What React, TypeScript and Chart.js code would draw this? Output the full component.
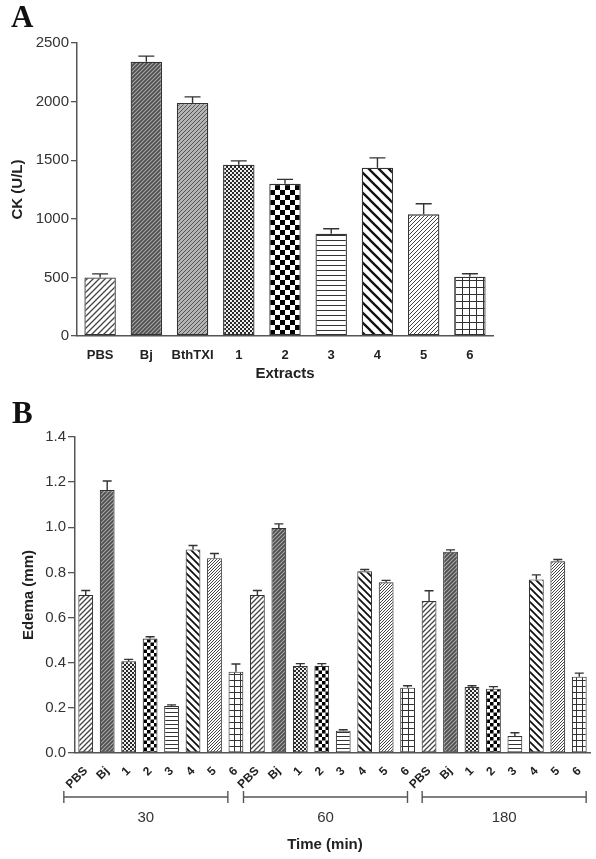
import React, { useEffect, useRef } from "react";
import { Chart, registerables } from "chart.js";
Chart.register(...registerables);

// ---------- Data: panel A (CK) ----------
const ckCategories = ["PBS", "Bj", "BthTXI", "1", "2", "3", "4", "5", "6"];
const ckValues = [500, 2340, 1988, 1462, 1298, 873, 1435, 1038, 505];
const ckSem = [30, 48, 52, 32, 38, 42, 85, 90, 26];
const ckTicks = [0, 500, 1000, 1500, 2000, 2500];

// ---------- Data: panel B (Edema) ----------
const edemaTreatments = ["PBS", "Bj", "1", "2", "3", "4", "5", "6"];
const timeGroups = ["30", "60", "180"];
const edema30 = [0.70, 1.165, 0.407, 0.507, 0.208, 0.902, 0.863, 0.36];
const edema30Sem = [0.02, 0.04, 0.008, 0.008, 0.005, 0.017, 0.021, 0.034];
const edema60 = [0.70, 0.997, 0.385, 0.386, 0.099, 0.805, 0.756, 0.289];
const edema60Sem = [0.02, 0.018, 0.011, 0.01, 0.004, 0.008, 0.009, 0.009];
const edema180 = [0.673, 0.892, 0.292, 0.285, 0.075, 0.769, 0.849, 0.338];
const edema180Sem = [0.046, 0.008, 0.006, 0.009, 0.015, 0.02, 0.008, 0.016];
const edemaTicks = [0, 0.2, 0.4, 0.6, 0.8, 1.0, 1.2, 1.4];

const ckPatternKeys = ["pbs", "bj", "bth", "c1", "c2", "h3", "d4", "d5", "g6"];
const edemaPatternKeys = ["pbs", "bj", "c1", "c2", "h3", "d4", "d5", "g6"];
// horizontal shift (px) of each time-group bracket, as in the original figure
const bracketShift = [-15, -7, 0];

const SANS = "'Liberation Sans', Arial, sans-serif";
const SERIF = "'Liberation Serif', 'Times New Roman', serif";

type Draw = (c: CanvasRenderingContext2D, s: number) => void;

function tile(size: number, bg: string, draw: Draw): CanvasPattern {
  const cv = document.createElement("canvas");
  cv.width = size;
  cv.height = size;
  const c = cv.getContext("2d")!;
  c.fillStyle = bg;
  c.fillRect(0, 0, size, size);
  draw(c, size);
  return c.createPattern(cv, "repeat")!;
}

function slash(color: string, lw: number): Draw {
  return (c, s) => {
    c.strokeStyle = color;
    c.lineWidth = lw;
    c.beginPath();
    c.moveTo(-1, s + 1);
    c.lineTo(s + 1, -1);
    c.moveTo(-2, 2);
    c.lineTo(2, -2);
    c.moveTo(s - 2, s + 2);
    c.lineTo(s + 2, s - 2);
    c.stroke();
  };
}

function backslash(color: string, lw: number): Draw {
  return (c, s) => {
    c.strokeStyle = color;
    c.lineWidth = lw;
    c.beginPath();
    c.moveTo(-1, -1);
    c.lineTo(s + 1, s + 1);
    c.moveTo(s - 2, -2);
    c.lineTo(s + 2, 2);
    c.moveTo(-2, s - 2);
    c.lineTo(2, s + 2);
    c.stroke();
  };
}

function checker(color: string): Draw {
  return (c, s) => {
    const h = s / 2;
    c.fillStyle = color;
    c.fillRect(0, 0, h, h);
    c.fillRect(h, h, h, h);
  };
}

function hlines(color: string): Draw {
  return (c, s) => {
    c.fillStyle = color;
    c.fillRect(0, 0, s, 1);
  };
}

function gridlines(color: string): Draw {
  return (c, s) => {
    c.fillStyle = color;
    c.fillRect(0, 0, s, 1);
    c.fillRect(0, 0, 1, s);
  };
}

function makePatterns(big: boolean): Record<string, CanvasPattern> {
  return {
    pbs: tile(big ? 6 : 5, "#ffffff", slash("#444", 1.3)),
    bj: tile(4, "#4e4e4e", slash("#a8a8a8", 1.1)),
    bth: tile(4, "#b4b4b4", slash("#555", 1.0)),
    c1: tile(4, "#eeeeee", checker("#2a2a2a")),
    c2: tile(big ? 10 : 7, "#ffffff", checker("#000000")),
    h3: tile(big ? 5 : 4, "#ffffff", hlines("#333")),
    d4: tile(big ? 10 : 7, "#ffffff", backslash("#111", big ? 2.3 : 1.8)),
    d5: tile(big ? 4 : 3, "#ffffff", slash("#444", 1.0)),
    g6: tile(big ? 7 : 6, "#ffffff", gridlines("#333")),
  };
}

function errorBarPlugin(values: number[], sems: number[], capW: number) {
  return {
    id: "errbars",
    afterDatasetsDraw(chart: any) {
      const meta = chart.getDatasetMeta(0);
      const y = chart.scales.y;
      const ctx = chart.ctx;
      ctx.save();
      ctx.strokeStyle = "#333";
      ctx.lineWidth = 1.4;
      meta.data.forEach((el: any, i: number) => {
        const top = el.y;
        const ey = y.getPixelForValue(values[i] + sems[i]);
        ctx.beginPath();
        ctx.moveTo(el.x, top);
        ctx.lineTo(el.x, ey);
        ctx.moveTo(el.x - capW / 2, ey);
        ctx.lineTo(el.x + capW / 2, ey);
        ctx.stroke();
      });
      ctx.restore();
    },
  };
}

function ChartA() {
  const ref = useRef<HTMLCanvasElement>(null);
  useEffect(() => {
    const canvas = ref.current!;
    const pats = makePatterns(true);
    const textPlugin = {
      id: "textA",
      afterDraw(chart: any) {
        const ctx = chart.ctx;
        const area = chart.chartArea;
        ctx.save();
        ctx.fillStyle = "#111";
        ctx.font = `bold 31px ${SERIF}`;
        ctx.textAlign = "left";
        ctx.textBaseline = "alphabetic";
        ctx.fillText("A", 11, 27);
        ctx.fillStyle = "#222";
        ctx.font = `bold 15px ${SANS}`;
        ctx.textAlign = "center";
        ctx.textBaseline = "middle";
        ctx.fillText("Extracts", (area.left + area.right) / 2, 374);
        ctx.translate(18, (area.top + area.bottom) / 2);
        ctx.rotate(-Math.PI / 2);
        ctx.fillText("CK (U/L)", 0, 0);
        ctx.restore();
      },
    };
    const chart = new Chart(canvas, {
      type: "bar",
      data: {
        labels: ckCategories,
        datasets: [
          {
            data: ckValues,
            backgroundColor: ckPatternKeys.map((k) => pats[k]) as any,
            borderColor: "#333",
            borderWidth: 1.3,
            borderSkipped: false,
            barPercentage: 0.68,
            categoryPercentage: 1,
          },
        ],
      },
      options: {
        responsive: false,
        animation: false,
        layout: { padding: { left: 0, right: 103, top: 43, bottom: 0 } },
        plugins: { legend: { display: false }, tooltip: { enabled: false } },
        scales: {
          x: {
            grid: { display: false },
            border: { display: true, color: "#555", width: 1.5 },
            ticks: {
              color: "#222",
              font: { family: SANS, size: 13, weight: "bold" },
              padding: 4,
              maxRotation: 0,
              autoSkip: false,
            },
            afterFit: (s: any) => {
              s.height = 44;
            },
          },
          y: {
            min: 0,
            max: 2500,
            afterBuildTicks: (s: any) => {
              s.ticks = ckTicks.map((v) => ({ value: v }));
            },
            grid: {
              display: true,
              drawOnChartArea: false,
              drawTicks: true,
              tickLength: 6,
              color: "#555",
              lineWidth: 1.3,
            },
            border: { display: true, color: "#555", width: 1.5 },
            ticks: {
              color: "#333",
              font: { family: SANS, size: 15 },
              padding: 2,
              callback: (v: any) => String(v),
            },
            afterFit: (s: any) => {
              s.width = 77;
            },
          },
        },
      } as any,
      plugins: [errorBarPlugin(ckValues, ckSem, 16), textPlugin],
    });
    return () => chart.destroy();
  }, []);
  return (
    <canvas
      ref={ref}
      width={596}
      height={380}
      style={{ position: "absolute", left: 0, top: 0, width: 596, height: 380, display: "block" }}
    />
  );
}

function ChartB() {
  const ref = useRef<HTMLCanvasElement>(null);
  useEffect(() => {
    const canvas = ref.current!;
    const pats = makePatterns(false);
    const labels: string[] = [];
    const values: number[] = [];
    const sems: number[] = [];
    const bg: CanvasPattern[] = [];
    const groupData = [
      [edema30, edema30Sem],
      [edema60, edema60Sem],
      [edema180, edema180Sem],
    ];
    timeGroups.forEach((g, gi) => {
      edemaTreatments.forEach((t, ti) => {
        labels.push(t);
        values.push(groupData[gi][0][ti]);
        sems.push(groupData[gi][1][ti]);
        bg.push(pats[edemaPatternKeys[ti]]);
      });
    });
    const n = edemaTreatments.length;
    const textPlugin = {
      id: "textB",
      afterDraw(chart: any) {
        const ctx = chart.ctx;
        const area = chart.chartArea;
        const x = chart.scales.x;
        ctx.save();
        ctx.fillStyle = "#111";
        ctx.font = `bold 31px ${SERIF}`;
        ctx.textAlign = "left";
        ctx.textBaseline = "alphabetic";
        ctx.fillText("B", 12, 43);
        // brackets
        const by = 417;
        ctx.strokeStyle = "#555";
        ctx.lineWidth = 1.4;
        ctx.fillStyle = "#333";
        ctx.font = `15px ${SANS}`;
        ctx.textAlign = "center";
        ctx.textBaseline = "middle";
        timeGroups.forEach((g, gi) => {
          const c =
            (x.getPixelForValue(gi * n) + x.getPixelForValue(gi * n + n - 1)) / 2 +
            bracketShift[gi];
          const x0 = c - 82;
          const x1 = c + 82;
          ctx.beginPath();
          ctx.moveTo(x0, by);
          ctx.lineTo(x1, by);
          ctx.moveTo(x0, by - 6);
          ctx.lineTo(x0, by + 6);
          ctx.moveTo(x1, by - 6);
          ctx.lineTo(x1, by + 6);
          ctx.stroke();
          ctx.fillText(g, c, 438);
        });
        ctx.fillStyle = "#222";
        ctx.font = `bold 15px ${SANS}`;
        ctx.fillText("Time (min)", 325, 465);
        ctx.translate(29, (area.top + area.bottom) / 2);
        ctx.rotate(-Math.PI / 2);
        ctx.fillText("Edema (mm)", 0, 0);
        ctx.restore();
      },
    };
    const chart = new Chart(canvas, {
      type: "bar",
      data: {
        labels,
        datasets: [
          {
            data: values,
            backgroundColor: bg as any,
            borderColor: "#333",
            borderWidth: 1.1,
            borderSkipped: false,
            barPercentage: 0.69,
            categoryPercentage: 1,
          },
        ],
      },
      options: {
        responsive: false,
        animation: false,
        layout: { padding: { left: 0, right: 6, top: 57, bottom: 0 } },
        plugins: { legend: { display: false }, tooltip: { enabled: false } },
        scales: {
          x: {
            grid: { display: false },
            border: { display: true, color: "#555", width: 1.5 },
            ticks: {
              color: "#222",
              font: { family: SANS, size: 12, weight: "bold" },
              padding: 3,
              minRotation: 45,
              maxRotation: 45,
              autoSkip: false,
            },
            afterFit: (s: any) => {
              s.height = 106;
            },
          },
          y: {
            min: 0,
            max: 1.4,
            afterBuildTicks: (s: any) => {
              s.ticks = edemaTicks.map((v) => ({ value: v }));
            },
            grid: {
              display: true,
              drawOnChartArea: false,
              drawTicks: true,
              tickLength: 7,
              color: "#555",
              lineWidth: 1.3,
            },
            border: { display: true, color: "#555", width: 1.5 },
            ticks: {
              color: "#333",
              font: { family: SANS, size: 15 },
              padding: 2,
              callback: (v: any) => Number(v).toFixed(1),
            },
            afterFit: (s: any) => {
              s.width = 75;
            },
          },
        },
      } as any,
      plugins: [errorBarPlugin(values, sems, 9), textPlugin],
    });
    return () => chart.destroy();
  }, []);
  return (
    <canvas
      ref={ref}
      width={596}
      height={479}
      style={{ position: "absolute", left: 0, top: 380, width: 596, height: 479, display: "block" }}
    />
  );
}

export default function App() {
  return (
    <div style={{ position: "absolute", left: 0, top: 0, width: 596, height: 859, background: "#fff" }}>
      <ChartA />
      <ChartB />
    </div>
  );
}
